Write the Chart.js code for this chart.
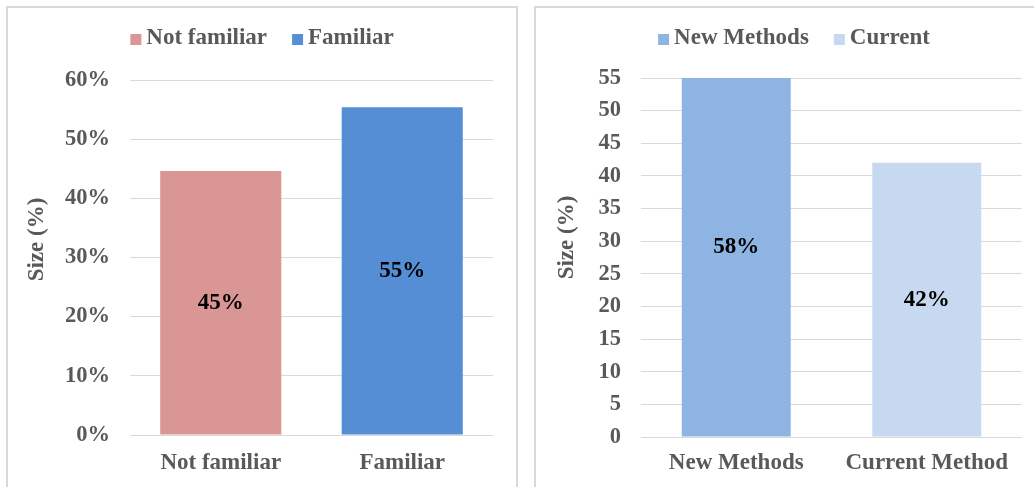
<!DOCTYPE html>
<html>
<head>
<meta charset="utf-8">
<script src="https://cdn.jsdelivr.net/npm/chart.js@4.4.1/dist/chart.umd.min.js"></script>
<style>
    html, body { margin: 0; padding: 0; background: #fff; overflow: hidden; width: 1034px; height: 487px; }
    .panel { position: absolute; top: 6px; height: 479px; border: 2px solid #d9d9d9; border-bottom: none; background: #fff; }
    #leftPanel { left: 6px; width: 508px; }
    #rightPanel { left: 534px; width: 516px; }
</style>
</head>
<body>
<div class="panel" id="leftPanel"><canvas id="leftChart"></canvas></div>
<div class="panel" id="rightPanel"><canvas id="rightChart"></canvas></div>
<script>
// left chart: familiarity
const leftCategories = ['Not familiar', 'Familiar'];
const leftLegend = ['Not familiar', 'Familiar'];
const leftValues = [44.6, 55.4];
const leftTicks = [0, 10, 20, 30, 40, 50, 60];

// right chart: methods (first bar runs past the axis max, as in the original)
const rightCategories = ['New Methods', 'Current Method'];
const rightLegend = ['New Methods', 'Current'];
const rightValues = [58, 42];
const rightTicks = [0, 5, 10, 15, 20, 25, 30, 35, 40, 45, 50, 55];

const FONT = '"Liberation Serif", "Times New Roman", serif';
const TEXT = '#595959';
const GRID = '#d9d9d9';

// square-box legend centred on the canvas
const boxLegend = {
    id: 'boxLegend',
    afterDraw(chart, args, opts) {
        const ctx = chart.ctx;
        const colors = chart.data.datasets[0].backgroundColor;
        ctx.save();
        ctx.font = 'bold 23px ' + FONT;
        ctx.textBaseline = 'middle';
        const widths = opts.names.map(t => opts.box + opts.gap + ctx.measureText(t).width);
        const total = widths.reduce((a, b) => a + b, 0) + opts.spacing * (widths.length - 1);
        let x = chart.width / 2 - total / 2;
        opts.names.forEach((t, i) => {
            ctx.fillStyle = colors[i];
            ctx.fillRect(x, opts.y - opts.box / 2 + 1, opts.box, opts.box);
            ctx.fillStyle = TEXT;
            ctx.fillText(t, x + opts.box + opts.gap, opts.y);
            x += widths[i] + opts.spacing;
        });
        ctx.restore();
    }
};

// value labels in the middle of each (unclipped) bar
const barLabels = {
    id: 'barLabels',
    afterDatasetsDraw(chart) {
        const ctx = chart.ctx;
        const meta = chart.getDatasetMeta(0);
        const data = chart.data.datasets[0].data;
        ctx.save();
        ctx.font = 'bold 23px ' + FONT;
        ctx.fillStyle = '#000';
        ctx.textAlign = 'center';
        ctx.textBaseline = 'middle';
        meta.data.forEach((bar, i) => {
            ctx.fillText(Math.round(data[i]) + '%', bar.x, (bar.y + bar.base) / 2);
        });
        ctx.restore();
    }
};

// rotated y-axis title
const yTitle = {
    id: 'yTitle',
    afterDraw(chart, args, opts) {
        const ctx = chart.ctx;
        const area = chart.chartArea;
        ctx.save();
        ctx.font = 'bold 23px ' + FONT;
        ctx.fillStyle = TEXT;
        ctx.textAlign = 'center';
        ctx.textBaseline = 'middle';
        ctx.translate(opts.x, (area.top + area.bottom) / 2 + opts.dy);
        ctx.rotate(-Math.PI / 2);
        ctx.fillText(opts.text, 0, 0);
        ctx.restore();
    }
};

function makeChart(canvasId, cfg) {
    const ctx = document.getElementById(canvasId);
    return new Chart(ctx, {
        type: 'bar',
        data: {
            labels: cfg.categories,
            datasets: [{
                data: cfg.values,
                backgroundColor: cfg.colors,
                barPercentage: cfg.barPct,
                categoryPercentage: 1,
                clip: 0
            }]
        },
        options: {
            responsive: true,
            maintainAspectRatio: false,
            animation: false,
            layout: { padding: cfg.padding },
            scales: {
                x: {
                    grid: { display: false, drawTicks: false },
                    border: { display: false },
                    ticks: { color: TEXT, padding: cfg.xPad, font: { family: FONT, size: 23, weight: 'bold' } },
                    afterFit: s => { s.height = 40; }
                },
                y: {
                    min: cfg.ticks[0],
                    max: cfg.ticks[cfg.ticks.length - 1],
                    afterBuildTicks: s => { s.ticks = cfg.ticks.map(v => ({ value: v })); },
                    grid: { color: GRID, lineWidth: 1, drawTicks: false },
                    border: { display: false },
                    ticks: {
                        color: TEXT,
                        padding: 20,
                        font: { family: FONT, size: 22.5, weight: 'bold' },
                        callback: v => v + cfg.suffix
                    },
                    afterFit: s => { s.width = cfg.yWidth; }
                }
            },
            plugins: {
                legend: { display: false },
                tooltip: { enabled: false },
                boxLegend: { names: cfg.legend, y: 30.5, box: 11, gap: 5, spacing: 25 },
                yTitle: { text: 'Size (%)', x: cfg.titleX, dy: cfg.titleDy }
            }
        },
        plugins: [barLabels, boxLegend, yTitle]
    });
}

makeChart('leftChart', {
    categories: leftCategories,
    legend: leftLegend,
    values: leftValues,
    ticks: leftTicks,
    suffix: '%',
    colors: ['#d99694', '#558ed5'],
    barPct: 0.667,
    padding: { top: 72, left: 0, right: 23, bottom: 12 },
    yWidth: 122,
    xPad: 14,
    titleX: 29,
    titleDy: -18
});

makeChart('rightChart', {
    categories: rightCategories,
    legend: rightLegend,
    values: rightValues,
    ticks: rightTicks,
    suffix: '',
    colors: ['#8eb4e3', '#c6d9f1'],
    barPct: 0.572,
    padding: { top: 70, left: 0, right: 30, bottom: 10 },
    yWidth: 105,
    xPad: 12,
    titleX: 31,
    titleDy: -20
});
</script>
</body>
</html>
